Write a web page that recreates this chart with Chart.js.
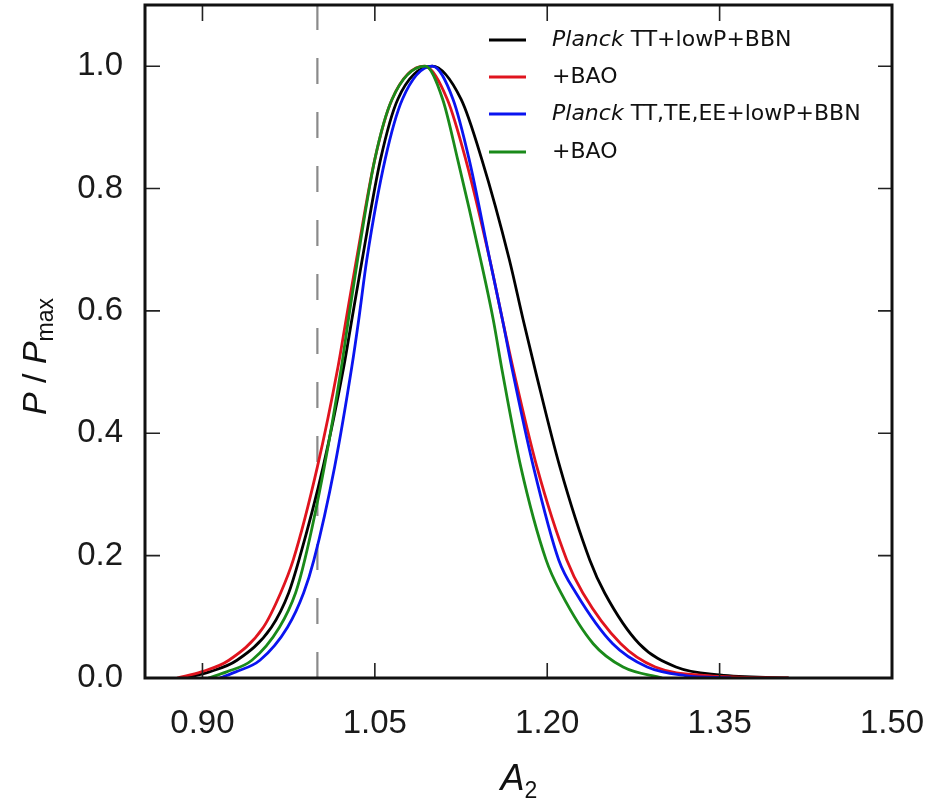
<!DOCTYPE html>
<html>
<head>
<meta charset="utf-8">
<title>A2 posterior</title>
<script src="https://cdn.jsdelivr.net/npm/chart.js@4.4.0/dist/chart.umd.min.js"></script>
<style>
  body { margin: 0; background: #fff; }
  #wrap { width: 928px; height: 808px; }
</style>
</head>
<body>
<div id="wrap"><canvas id="chart" width="928" height="808"></canvas></div>
<script>
// Posterior curves for A2

// axis ticks
const xTicks = [0.90, 1.05, 1.20, 1.35, 1.50];
const yTicks = [0.0, 0.2, 0.4, 0.6, 0.8, 1.0];

// series labels and colours
const seriesLabels = ['Planck TT+lowP+BBN', '+BAO', 'Planck TT,TE,EE+lowP+BBN', '+BAO'];
const seriesColors = ['#000000', '#e0141e', '#0a14f0', '#1a8a1a'];

// Planck TT+lowP+BBN (black)
const blackX = [0.885, 0.906, 0.930, 0.960, 0.975, 0.984, 1.005, 1.023, 1.030, 1.039, 1.055, 1.070, 1.100, 1.125, 1.143, 1.167, 1.179, 1.190, 1.211, 1.237, 1.250, 1.280, 1.312, 1.350, 1.410];
const blackY = [0.000, 0.010, 0.029, 0.083, 0.139, 0.193, 0.345, 0.509, 0.586, 0.684, 0.848, 0.946, 1.000, 0.946, 0.848, 0.684, 0.586, 0.500, 0.345, 0.193, 0.139, 0.056, 0.018, 0.005, 0.000];

// +BAO (red)
const redX = [0.878, 0.899, 0.923, 0.953, 0.968, 0.979, 1.000, 1.018, 1.025, 1.034, 1.050, 1.065, 1.093, 1.113, 1.129, 1.150, 1.161, 1.171, 1.191, 1.217, 1.231, 1.264, 1.294, 1.340, 1.410];
const redY = [0.000, 0.010, 0.029, 0.083, 0.139, 0.193, 0.345, 0.509, 0.586, 0.684, 0.848, 0.946, 1.000, 0.946, 0.848, 0.684, 0.586, 0.500, 0.345, 0.193, 0.139, 0.056, 0.018, 0.004, 0.000];

// Planck TT,TE,EE+lowP+BBN (blue)
const blueX = [0.915, 0.929, 0.950, 0.974, 0.988, 0.997, 1.015, 1.030, 1.036, 1.043, 1.059, 1.074, 1.100, 1.118, 1.132, 1.150, 1.161, 1.170, 1.188, 1.210, 1.225, 1.257, 1.287, 1.320, 1.360];
const blueY = [0.000, 0.010, 0.029, 0.083, 0.139, 0.193, 0.345, 0.509, 0.586, 0.684, 0.848, 0.946, 1.000, 0.946, 0.848, 0.684, 0.586, 0.500, 0.345, 0.193, 0.139, 0.056, 0.018, 0.004, 0.000];

// +BAO (green)
const greenX = [0.905, 0.921, 0.943, 0.967, 0.981, 0.989, 1.006, 1.021, 1.027, 1.035, 1.050, 1.065, 1.094, 1.109, 1.122, 1.142, 1.153, 1.161, 1.177, 1.199, 1.212, 1.240, 1.266, 1.300];
const greenY = [0.000, 0.010, 0.029, 0.083, 0.139, 0.193, 0.345, 0.509, 0.586, 0.684, 0.848, 0.946, 1.000, 0.946, 0.848, 0.684, 0.586, 0.500, 0.345, 0.193, 0.139, 0.056, 0.018, 0.000];

// vertical reference line at A2 = 1
const refX = [1.0, 1.0];
const refY = [0.0, 1.1];

function points(xs, ys) {
    return xs.map((x, i) => ({ x: x, y: ys[i] }));
}

const seriesX = [blackX, redX, blueX, greenX];
const seriesY = [blackY, redY, blueY, greenY];

const datasets = seriesLabels.map((label, i) => ({
    label: label,
    data: points(seriesX[i], seriesY[i]),
    borderColor: seriesColors[i],
    backgroundColor: seriesColors[i],
    borderWidth: 2.8,
    pointRadius: 0,
    cubicInterpolationMode: 'monotone',
    order: 4 - i
}));

datasets.push({
    label: 'ref',
    data: points(refX, refY),
    borderColor: '#8a8a8a',
    borderWidth: 2.2,
    borderDash: [26, 28],
    pointRadius: 0,
    tension: 0,
    order: 10
});

// frame, inward ticks, legend and axis titles (matplotlib look)
const framePlugin = {
    id: 'frame',
    afterDraw(chart) {
        const ctx = chart.ctx;
        const a = chart.chartArea;
        const x = chart.scales.x;
        const y = chart.scales.y;
        ctx.save();

        // inward ticks on all four sides
        ctx.strokeStyle = '#222';
        ctx.lineWidth = 1.6;
        ctx.beginPath();
        x.ticks.forEach(t => {
            const px = x.getPixelForValue(t.value);
            ctx.moveTo(px, a.bottom); ctx.lineTo(px, a.bottom - 15);
            ctx.moveTo(px, a.top); ctx.lineTo(px, a.top + 16);
        });
        y.ticks.forEach(t => {
            const py = y.getPixelForValue(t.value);
            ctx.moveTo(a.left, py); ctx.lineTo(a.left + 15, py);
            ctx.moveTo(a.right, py); ctx.lineTo(a.right - 14, py);
        });
        ctx.stroke();

        // frame
        ctx.strokeStyle = '#111';
        ctx.lineWidth = 3;
        ctx.strokeRect(a.left, a.top, a.right - a.left, a.bottom - a.top);

        // legend
        const lx = a.right - 403;
        const rowY = [35, 72, 109, 147];
        ctx.textBaseline = 'middle';
        seriesLabels.forEach((label, i) => {
            const ry = a.top + rowY[i];
            ctx.strokeStyle = seriesColors[i];
            ctx.lineWidth = 3;
            ctx.beginPath();
            ctx.moveTo(lx, ry); ctx.lineTo(lx + 37, ry);
            ctx.stroke();
            let tx = lx + 63;
            ctx.fillStyle = '#111';
            if (label.startsWith('Planck')) {
                ctx.font = 'italic 22px "DejaVu Sans"';
                ctx.fillText('Planck', tx, ry);
                tx += ctx.measureText('Planck').width;
                label = label.slice(6);
            }
            ctx.font = '22px "DejaVu Sans"';
            ctx.fillText(label, tx, ry);
        });

        // x title: A_2
        const cx = (a.left + a.right) / 2;
        ctx.fillStyle = '#111';
        ctx.textBaseline = 'alphabetic';
        ctx.font = 'italic 36px "Liberation Sans"';
        const aw = ctx.measureText('A').width;
        ctx.fillText('A', cx - aw / 2 - 6, 790);
        ctx.font = '23px "Liberation Sans"';
        ctx.fillText('2', cx + aw / 2 - 6, 798);

        // y title: P / P_max
        ctx.save();
        ctx.translate(46, (a.top + a.bottom) / 2 + 15);
        ctx.rotate(-Math.PI / 2);
        const parts = [
            { t: 'P', f: 'italic 34px "Liberation Sans"', dy: 0 },
            { t: ' / ', f: '34px "Liberation Sans"', dy: 0 },
            { t: 'P', f: 'italic 34px "Liberation Sans"', dy: 0 },
            { t: 'max', f: '23px "Liberation Sans"', dy: 7 }
        ];
        let total = 0;
        parts.forEach(p => { ctx.font = p.f; total += ctx.measureText(p.t).width; });
        let px = -total / 2;
        parts.forEach(p => {
            ctx.font = p.f;
            ctx.fillText(p.t, px, p.dy);
            px += ctx.measureText(p.t).width;
        });
        ctx.restore();

        ctx.restore();
    }
};

// drop the label overflow padding so the plot box is set by layout padding only
function noOverflow(s) {
    s.paddingLeft = 0;
    s.paddingRight = 0;
    s.paddingTop = 0;
    s.paddingBottom = 0;
}

const chart = new Chart(document.getElementById('chart'), {
    type: 'line',
    data: { datasets: datasets },
    options: {
        responsive: false,
        animation: false,
        layout: { padding: { top: 5, right: 36, left: 0, bottom: 0 } },
        plugins: {
            legend: { display: false },
            tooltip: { enabled: false }
        },
        scales: {
            x: {
                type: 'linear',
                min: 0.85,
                max: 1.50,
                afterBuildTicks: s => { s.ticks = xTicks.map(v => ({ value: v })); },
                afterFit: s => { s.height = 130; noOverflow(s); },
                grid: { display: false, drawTicks: false },
                border: { display: false },
                ticks: {
                    padding: 26,
                    color: '#1a1a1a',
                    font: { family: 'Liberation Sans', size: 33 },
                    callback: v => Number(v).toFixed(2)
                }
            },
            y: {
                type: 'linear',
                min: 0,
                max: 1.1,
                afterBuildTicks: s => { s.ticks = yTicks.map(v => ({ value: v })); },
                afterFit: s => { s.width = 145; noOverflow(s); },
                grid: { display: false, drawTicks: false },
                border: { display: false },
                ticks: {
                    padding: 22,
                    color: '#1a1a1a',
                    font: { family: 'Liberation Sans', size: 33 },
                    callback: v => Number(v).toFixed(1)
                }
            }
        }
    },
    plugins: [framePlugin]
});
</script>
</body>
</html>
